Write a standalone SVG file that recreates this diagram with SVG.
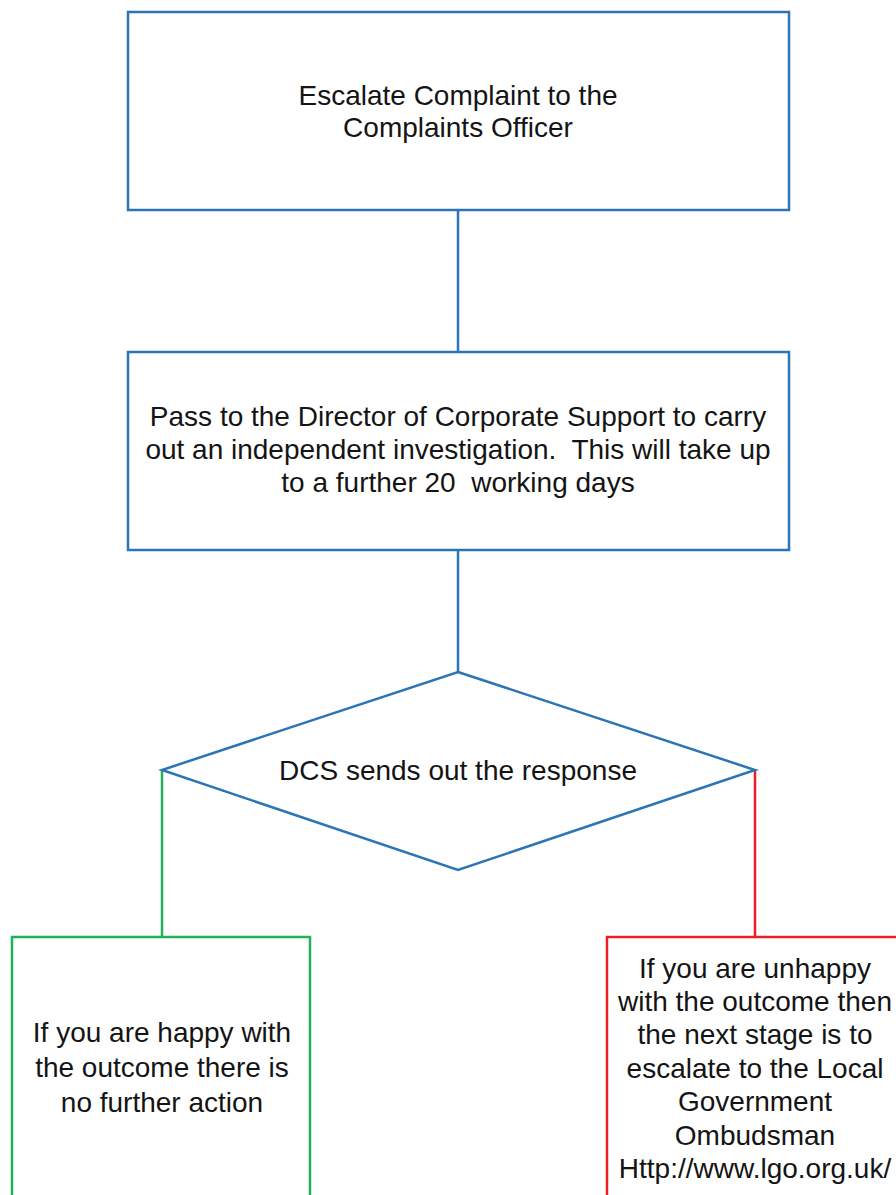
<svg xmlns="http://www.w3.org/2000/svg" width="896" height="1195" viewBox="0 0 896 1195">
<style>
.box{fill:#fff;stroke-width:2.5}
.blue{stroke:#2b74b8}
.green{stroke:#22b15a}
.red{stroke:#ee1c24}
.conn{fill:none;stroke-width:2.5}
text{font-family:"Liberation Sans",Arial,sans-serif;font-size:28px;fill:#141414;text-anchor:middle;white-space:pre}
</style>
<rect width="896" height="1195" fill="#fff"/>
<g id="connectors">
<line class="conn blue" x1="458" y1="210" x2="458" y2="352"/>
<line class="conn blue" x1="458" y1="550" x2="458" y2="672"/>
<polyline class="conn green" points="162,770 162,937"/>
<polyline class="conn red" points="755,770 755,937"/>
</g>
<g id="escalate">
<rect class="box blue" x="128" y="12" width="661" height="198"/>
<text x="458" y="105">Escalate Complaint to the</text>
<text x="458" y="137">Complaints Officer</text>
</g>
<g id="director">
<rect class="box blue" x="128" y="352" width="661" height="198"/>
<text x="458" y="426">Pass to the Director of Corporate Support to carry</text>
<text x="458" y="459" xml:space="preserve">out an independent investigation.  This will take up</text>
<text x="458" y="492" xml:space="preserve">to a further 20  working days</text>
</g>
<g id="decision">
<polygon class="box blue" points="458,672 755,770 458,870 162,770"/>
<text x="458" y="780">DCS sends out the response</text>
</g>
<g id="happy">
<rect class="box green" x="12" y="937" width="298" height="270"/>
<text x="162" y="1042">If you are happy with</text>
<text x="162" y="1077">the outcome there is</text>
<text x="162" y="1112">no further action</text>
</g>
<g id="unhappy">
<rect class="box red" x="607" y="937" width="300" height="270"/>
<text x="755" y="978">If you are unhappy</text>
<text x="755" y="1011">with the outcome then</text>
<text x="755" y="1044">the next stage is to</text>
<text x="755" y="1078">escalate to the Local</text>
<text x="755" y="1111">Government</text>
<text x="755" y="1145">Ombudsman</text>
<text x="755" y="1178">Http://www.lgo.org.uk/</text>
</g>
</svg>
